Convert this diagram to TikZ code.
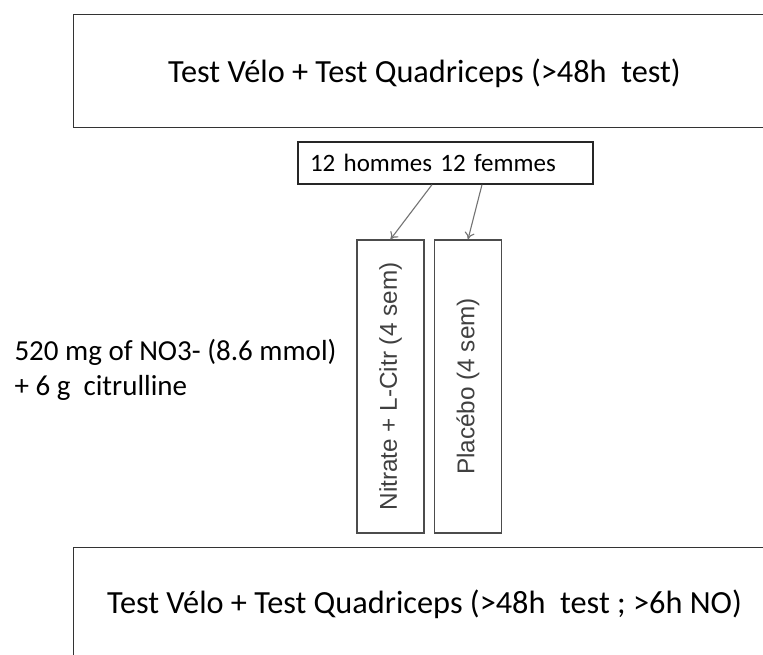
\documentclass[tikz,border=0pt]{standalone}
\usepackage{fontspec}
\setmainfont{Carlito}
\newfontfamily\arialfont{Liberation Sans}
\usetikzlibrary{arrows.meta}

\begin{document}
\begin{tikzpicture}[x=1pt,y=-1pt,
    testbox/.style={draw=black!80, line width=1.3pt, anchor=north west, inner sep=0pt},
    groupbox/.style={draw=black!85, line width=1.3pt, minimum width=295pt, minimum height=42pt, inner xsep=12pt, inner ysep=0pt, text width=271pt, align=left, font=\fontsize{25}{30}\selectfont},
    armbox/.style={draw=black!70, line width=1.3pt, rotate=90, minimum width=293pt, minimum height=67pt, inner sep=0pt, text=black!75, font=\arialfont\fontsize{24.3}{28}\selectfont},
    bigtext/.style={anchor=base, font=\fontsize{32.3}{38}\selectfont},
    arrowline/.style={draw=black!55, line width=1.1pt, -{To[length=7pt,width=10pt]}}]
    \useasboundingbox (0,0) rectangle (763,654);
    \fill[white] (0,0) rectangle (763,654);

    \node[testbox, minimum width=720pt, minimum height=113pt] (pre) at (73,14) {};
    \node[bigtext] (pretext) at (424.5,82) {Test Vélo + Test Quadriceps (>48h\ \ test)};

    \node[groupbox] (grp) at (445.5,163) {12 hommes 12 femmes};

    \node[armbox] (nit) at (390.5,386.5) {Nitrate + L-Citr (4 sem)};
    \node[armbox] (pla) at (468,386.5) {Placébo (4 sem)};

    \draw[arrowline] ([xshift=-13.5pt]grp.south) -- (nit.east);
    \draw[arrowline] ([xshift=36.5pt]grp.south) -- (pla.east);

    \node[anchor=west, align=left, font=\fontsize{29}{35}\selectfont] (dose) at (11,370) {520 mg of NO3- (8.6 mmol)\\+ 6 g\ \ citrulline};

    \node[testbox, minimum width=720pt, minimum height=130pt] (post) at (73,547) {};
    \node[bigtext] (posttext) at (424.5,613) {Test Vélo + Test Quadriceps (>48h\ \ test ; >6h NO)};
\end{tikzpicture}
\end{document}
